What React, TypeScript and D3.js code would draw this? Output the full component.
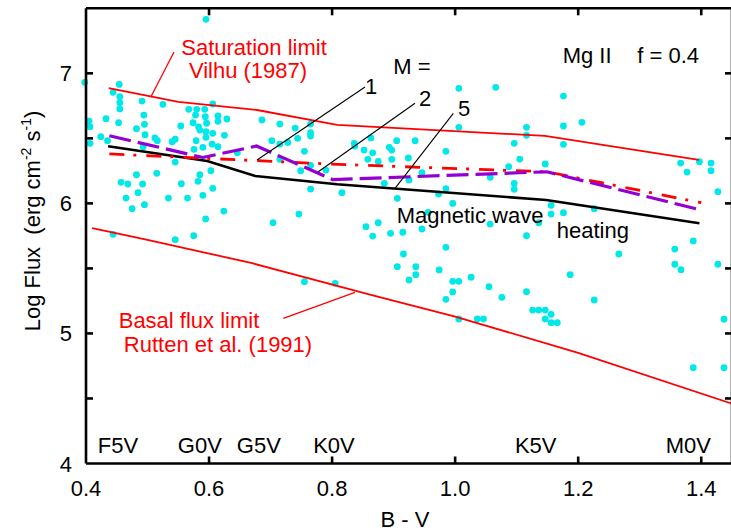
import React from "react";
import * as d3 from "d3";

// ---- data ----
const bvTicks = [0.4, 0.6, 0.8, 1.0, 1.2, 1.4];
const bvTickLabels = ["0.4", "0.6", "0.8", "1.0", "1.2", "1.4"];
const fluxTicks = [4, 5, 6, 7];
const fluxMinorTicks = [4.5, 5.5, 6.5];

const spectralTypes = ["F5V", "G0V", "G5V", "K0V", "K5V", "M0V"];
const spectralBV = [0.452, 0.585, 0.681, 0.803, 1.131, 1.379];

const saturationBV = [0.437, 0.55, 0.678, 0.808, 1.146, 1.396];
const saturationFlux = [6.887, 6.78, 6.718, 6.604, 6.519, 6.335];

const basalBV = [0.41, 0.5, 0.67, 0.86, 1.0, 1.2, 1.45];
const basalFlux = [5.81, 5.72, 5.54, 5.3, 5.13, 4.85, 4.46];

const m1BV = [0.438, 0.81, 1.149, 1.4];
const m1Flux = [6.38, 6.3, 6.243, 6.005];

const m2BV = [0.438, 0.59, 0.677, 0.801, 1.149, 1.4];
const m2Flux = [6.52, 6.353, 6.441, 6.183, 6.243, 5.949];

const m5BV = [0.436, 0.597, 0.675, 0.808, 1.148, 1.397];
const m5Flux = [6.44, 6.326, 6.21, 6.147, 6.026, 5.847];

const starBV = [
  0.595, 0.398, 0.454, 0.444, 0.455, 0.455, 0.455, 0.491, 0.525, 0.494,
  0.453, 0.4325, 0.405, 0.4065, 0.4065, 0.424, 0.435, 0.482, 0.495, 0.496,
  0.512, 0.516, 0.493, 0.54, 0.545, 0.554, 0.567, 0.58, 0.593, 0.606,
  0.578, 0.574, 0.594, 0.596, 0.6145, 0.6145, 0.629, 0.583, 0.585, 0.595,
  0.606, 0.595, 0.625, 0.579, 0.59, 0.605, 0.6145, 0.5755, 0.646, 0.545,
  0.603, 0.585, 0.482, 0.515, 0.457, 0.468, 0.492, 0.582, 0.606, 0.555,
  0.465, 0.4845, 0.534, 0.565, 0.59, 0.475, 0.495, 0.624, 0.5945, 0.444,
  0.545, 0.575,
  0.686, 0.715, 0.74, 0.765, 0.765, 0.765, 0.702, 0.715, 0.728, 0.744,
  0.755, 0.715, 0.749, 0.765, 0.79, 0.765, 0.816, 0.836, 0.837, 0.863,
  0.852, 0.866, 0.858, 0.875, 0.905, 0.893, 0.897, 0.897, 0.935, 0.924,
  0.946, 0.925, 0.885, 0.906, 0.746, 0.704, 0.956, 0.855, 0.875, 0.866,
  0.895, 0.915, 0.946, 0.916, 0.906, 0.936, 0.936, 0.925, 0.974, 0.755,
  0.805, 0.973,
  1.006, 1.066, 1.176, 1.206, 1.176, 1.006, 1.116, 1.116, 1.096, 1.176,
  0.985, 1.105, 1.087, 1.1465, 1.057, 1.096, 1.096, 0.985, 0.996, 1.156,
  1.156, 1.176, 1.226, 1.057, 1.136, 1.116, 1.266, 0.985, 1.187, 1.026,
  0.996, 1.006, 1.055, 0.996, 1.116, 0.985, 1.076, 1.226, 1.126, 1.136,
  1.1465, 1.156, 1.1465, 1.156, 1.166, 1.006, 1.036, 1.046,
  1.3665, 1.397, 1.416, 1.377, 1.416, 1.427, 1.387, 1.357, 1.357, 1.367,
  1.427, 1.437, 1.387, 1.437,
];
const starFlux = [
  7.415, 6.931, 6.915, 6.854, 6.82, 6.774, 6.726, 6.787, 6.762, 6.679,
  6.62, 6.651, 6.633, 6.589, 6.462, 6.513, 6.482, 6.574, 6.608, 6.528,
  6.503, 6.482, 6.436, 6.474, 6.493, 6.595, 6.723, 6.723, 6.723, 6.764,
  6.679, 6.62, 6.666, 6.616, 6.672, 6.631, 6.649, 6.589, 6.564, 6.551,
  6.539, 6.508, 6.523, 6.482, 6.431, 6.456, 6.436, 6.416, 6.389, 6.318,
  6.251, 6.22, 6.22, 6.231, 6.162, 6.149, 6.149, 6.17, 6.116, 6.151,
  6.041, 6.082, 6.041, 6.041, 6.062, 5.959, 5.99, 5.941, 5.88, 5.762,
  5.721, 5.751,
  6.641, 6.61, 6.579, 6.61, 6.543, 6.518, 6.482, 6.456, 6.469, 6.5,
  6.4, 6.339, 6.251, 6.293, 6.256, 6.11, 6.082, 6.462, 6.441, 6.503,
  6.41, 6.389, 6.339, 6.323, 6.482, 6.431, 6.41, 6.339, 6.482, 6.349,
  6.236, 6.18, 6.154, 6.039, 5.918, 5.851, 5.931, 5.821, 5.851, 5.749,
  5.77, 5.778, 5.803, 5.611, 5.513, 5.513, 5.452, 5.411, 5.488, 5.398,
  5.385, 6.072,
  6.885, 6.892, 6.825, 6.623, 6.595, 6.585, 6.585, 6.523, 6.462, 6.454,
  6.4, 6.341, 6.282, 6.303, 6.2, 6.154, 6.108, 6.113, 6.0, 5.985,
  5.918, 5.928, 5.959, 5.841, 5.851, 5.751, 5.611, 5.662, 5.452, 5.432,
  5.401, 5.401, 5.359, 5.319, 5.321, 5.262, 5.278, 5.257, 5.18, 5.18,
  5.18, 5.147, 5.111, 5.083, 5.083, 5.111, 5.111, 5.111,
  6.31, 6.32, 6.31, 6.241, 6.251, 6.09, 5.711, 5.649, 5.532, 5.49,
  5.532, 5.109, 4.737, 4.737,
];

// ---- layout ----
const W = 731;
const H = 531;
const X0 = 86;
const X1 = 732;
const Y0 = 463.5;
const Y1 = 8.3;
const FONT = "'Liberation Sans', Arial, Helvetica, sans-serif";
const RED = "#ff0000";
const PURPLE = "#9400d3";
const CYAN = "#00e8e8";

export default function App() {
  const x = d3.scaleLinear().domain([0.4, 1.45]).range([X0, X1]);
  const y = d3.scaleLinear().domain([4, 7.5]).range([Y0, Y1]);
  const line = d3
    .line<[number, number]>()
    .x((d) => x(d[0]))
    .y((d) => y(d[1]));
  const zip = (a: number[], b: number[]) => a.map((v, i) => [v, b[i]] as [number, number]);
  const TL = 7;

  return (
    <svg
      width={W}
      height={H}
      style={{ position: "fixed", left: 0, top: 0, background: "#fff" }}
      fontFamily={FONT}
    >
      {/* stars */}
      <g fill={CYAN}>
        {starBV.map((b, i) => (
          <circle key={i} cx={x(b)} cy={y(starFlux[i])} r={3.4} />
        ))}
      </g>

      {/* model / limit lines */}
      <path d={line(zip(saturationBV, saturationFlux)) || ""} fill="none" stroke={RED} strokeWidth={1.8} />
      <path d={line(zip(basalBV, basalFlux)) || ""} fill="none" stroke={RED} strokeWidth={1.8} />
      <path d={line(zip(m5BV, m5Flux)) || ""} fill="none" stroke="#000" strokeWidth={2.6} />
      <path
        d={line(zip(m1BV, m1Flux)) || ""}
        fill="none"
        stroke={RED}
        strokeWidth={2.8}
        strokeDasharray="15,9,3,10"
      />
      <path
        d={line(zip(m2BV, m2Flux)) || ""}
        fill="none"
        stroke={PURPLE}
        strokeWidth={3.2}
        strokeDasharray="22,7"
      />

      {/* axes frame */}
      <g stroke="#000" strokeWidth={2.6} fill="none">
        <line x1={X0} y1={Y0} x2={X1} y2={Y0} />
        <line x1={X0} y1={Y1} x2={X1} y2={Y1} />
        <line x1={X0} y1={Y0} x2={X0} y2={Y1} />
        <line x1={X1} y1={Y0} x2={X1} y2={Y1} />
        {bvTicks.slice(1).map((t) => (
          <g key={"bx" + t}>
            <line x1={x(t)} y1={Y0} x2={x(t)} y2={Y0 - TL} />
            <line x1={x(t)} y1={Y1} x2={x(t)} y2={Y1 + TL} />
          </g>
        ))}
        {[...fluxTicks.slice(1), ...fluxMinorTicks].map((t) => (
          <g key={"fy" + t}>
            <line x1={X0} y1={y(t)} x2={X0 + TL} y2={y(t)} />
            <line x1={X1} y1={y(t)} x2={X1 - TL} y2={y(t)} />
          </g>
        ))}
      </g>

      {/* tick labels */}
      <g fontSize={22} fill="#000">
        {bvTicks.map((t, i) => (
          <text key={"xl" + t} x={x(t)} y={496} textAnchor="middle">
            {bvTickLabels[i]}
          </text>
        ))}
        {fluxTicks.map((t) => (
          <text key={"yl" + t} x={72} y={y(t) + 8} textAnchor="end">
            {t}
          </text>
        ))}
        {spectralTypes.map((s, i) => (
          <text key={s} x={x(spectralBV[i])} y={453} textAnchor="middle">
            {s}
          </text>
        ))}
      </g>

      {/* axis titles */}
      <text x={405} y={527} fontSize={22} textAnchor="middle">
        B - V
      </text>
      <g transform="translate(39.5,221) rotate(-90)">
        <text x={0} y={0} fontSize={22} textAnchor="middle">
          <tspan>{"Log Flux\u00a0\u00a0(erg cm"}</tspan>
          <tspan fontSize={14} dy={-9}>-2</tspan>
          <tspan dy={9}>{"\u00a0s"}</tspan>
          <tspan fontSize={14} dy={-9}>-1</tspan>
          <tspan dy={9}>)</tspan>
        </text>
      </g>

      {/* annotations */}
      <g fontSize={22} fill={RED}>
        <text x={254} y={55} textAnchor="middle">Saturation limit</text>
        <text x={248} y={78} textAnchor="middle">Vilhu (1987)</text>
        <text x={189} y={328} textAnchor="middle">Basal flux limit</text>
        <text x={218} y={352} textAnchor="middle">Rutten et al. (1991)</text>
      </g>
      <g stroke={RED} strokeWidth={1.3}>
        <line x1={174} y1={52} x2={150.7} y2={97.3} />
        <line x1={283.3} y1={318.3} x2={355} y2={292.3} />
      </g>

      <g fontSize={22} fill="#000">
        <text x={412} y={74} textAnchor="middle">M =</text>
        <text x={371} y={94} textAnchor="middle">1</text>
        <text x={425} y={106} textAnchor="middle">2</text>
        <text x={464} y={116} textAnchor="middle">5</text>
        <text x={562.7} y={63}>Mg II</text>
        <text x={637.3} y={63}>f = 0.4</text>
        <text x={396.7} y={223}>Magnetic wave</text>
        <text x={556.7} y={238}>heating</text>
      </g>
      <g stroke="#000" strokeWidth={1.1}>
        <line x1={365} y1={87} x2={257} y2={160} />
        <line x1={415} y1={103.3} x2={318.3} y2={171.7} />
        <line x1={453.3} y1={113.3} x2={395} y2={188.3} />
      </g>
    </svg>
  );
}
